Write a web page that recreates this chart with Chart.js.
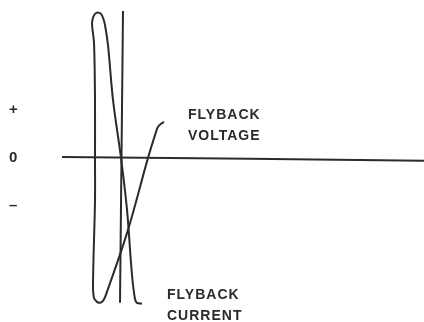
<!DOCTYPE html>
<html lang="en">
<head>
<meta charset="UTF-8" />
<title>Flyback Waveforms</title>
<style>
  body { margin: 0; background: #ffffff; }
  #wrap { width: 424px; height: 322px; }
</style>
</head>
<body>

<div id="wrap">
  <canvas id="flybackChart" width="424" height="322"></canvas>
</div>

<script src="https://cdn.jsdelivr.net/npm/chart.js"></script>
<script>
  // Time axis (x) and level axis (y) samples for each trace
  const currentX = [2.0, 1.5, 1.3, 1.0, 0.5, -0.1, -0.9, -1.4, -1.7, -1.9, -2.1, -2.4, -2.7, -2.9, -3.0, -2.8, -2.7, -2.7];
  const currentY = [-3.04, -3.02, -2.94, -2.44, -1.08, 0, 1.21, 2.35, 2.77, 2.92, 3.0, 3.03, 3.0, 2.92, 2.79, 2.4, 1.21, 0];

  const voltageX = [-2.7, -2.7, -2.9, -2.8, -2.5, -2.2, -1.9, -1.6, 0.6, 2.6, 3.4, 3.6, 3.9, 4.2];
  const voltageY = [0, -0.88, -2.65, -2.92, -3.0, -3.02, -2.98, -2.85, -1.5, 0, 0.54, 0.65, 0.71, 0.75];

  // Baseline and the retrace marker
  const baselineX = [-6.0, 12.8, 30.2];
  const baselineY = [0.02, -0.02, -0.06];
  const markerX = [0.1, -0.2];
  const markerY = [3.06, -3.02];

  // Level labels on the left
  const levelValues = [1, 0, -1];
  const levelLabels = ['+', '0', '–'];

  // Trace names
  const traceNames = [['FLYBACK', 'VOLTAGE'], ['FLYBACK', 'CURRENT']];

  const ink = '#2b2b2b';

  function toPoints(xs, ys) {
    return xs.map((x, i) => ({ x: x, y: ys[i] }));
  }

  function lineSet(label, xs, ys, tension) {
    return {
      label: label,
      data: toPoints(xs, ys),
      showLine: true,
      borderColor: ink,
      borderWidth: 2,
      pointRadius: 0,
      tension: tension,
      fill: false
    };
  }

  // Writes the trace names next to the ends of the traces
  const traceLabels = {
    id: 'traceLabels',
    afterDatasetsDraw(chart) {
      const ctx = chart.ctx;
      const xs = chart.scales.x;
      const ys = chart.scales.y;
      const spots = [
        { lines: traceNames[0], x: 6.6, y: 0.9 },
        { lines: traceNames[1], x: 4.5, y: -2.87 }
      ];
      ctx.save();
      ctx.fillStyle = ink;
      ctx.font = 'bold 14px "Liberation Sans", Arial, sans-serif';
      ctx.letterSpacing = '1px';
      ctx.textBaseline = 'middle';
      ctx.textAlign = 'left';
      spots.forEach(s => {
        const px = xs.getPixelForValue(s.x);
        const py = ys.getPixelForValue(s.y);
        s.lines.forEach((t, i) => ctx.fillText(t, px, py + i * 21));
      });
      ctx.restore();
    }
  };

  new Chart(document.getElementById('flybackChart'), {
    type: 'scatter',
    data: {
      datasets: [
        lineSet('Baseline', baselineX, baselineY, 0),
        lineSet('Marker', markerX, markerY, 0),
        lineSet('Flyback current', currentX, currentY, 0.35),
        lineSet('Flyback voltage', voltageX, voltageY, 0.35)
      ]
    },
    options: {
      responsive: false,
      animation: false,
      layout: { padding: { left: 9, right: 0, top: 0, bottom: 0 } },
      plugins: {
        legend: { display: false },
        tooltip: { enabled: false }
      },
      scales: {
        x: { type: 'linear', display: false, min: -9.5, max: 30.2 },
        y: {
          type: 'linear',
          min: -3.42,
          max: 3.29,
          grid: { display: false },
          border: { display: false },
          afterBuildTicks(scale) {
            scale.ticks = levelValues.map(v => ({ value: v }));
          },
          afterFit(scale) {
            scale.width = 18;
            scale.paddingTop = 0;
            scale.paddingBottom = 0;
          },
          ticks: {
            crossAlign: 'far',
            color: ink,
            font: { family: '"Liberation Sans", Arial, sans-serif', size: 15, weight: 'bold' },
            callback: (v) => levelLabels[levelValues.indexOf(v)]
          }
        }
      }
    },
    plugins: [traceLabels]
  });
</script>

</body>
</html>
